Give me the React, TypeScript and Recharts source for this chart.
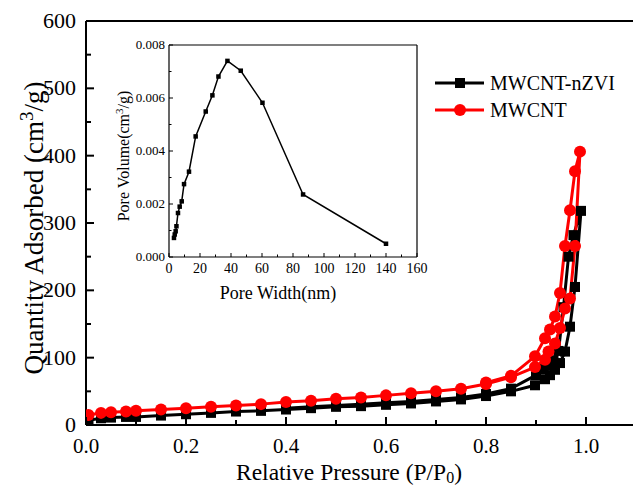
import React from "react";
import {
  LineChart,
  Line,
  XAxis,
  YAxis,
  ReferenceLine,
  Label,
} from "recharts";

// main isotherm: MWCNT-nZVI (black)
const nzviAdsP = [0.005, 0.03, 0.05, 0.08, 0.1, 0.15, 0.2, 0.25, 0.3, 0.35, 0.4, 0.45, 0.5, 0.55, 0.6, 0.65, 0.7, 0.75, 0.8, 0.85, 0.898, 0.918, 0.928, 0.938, 0.948, 0.958, 0.968, 0.978, 0.99];
const nzviAdsQ = [7, 10, 11, 12, 12, 14, 16, 18, 20, 21, 23, 25, 27, 28, 30, 32, 35, 38, 43, 50, 59, 68, 74, 82, 92, 109, 146, 205, 318];
const nzviDesP = [0.975, 0.965, 0.955, 0.945, 0.935, 0.925, 0.915, 0.9, 0.85, 0.8, 0.75, 0.7, 0.65, 0.6, 0.55, 0.5, 0.45, 0.4];
const nzviDesQ = [282, 250, 175, 110, 96, 88, 83, 74, 54, 46, 41, 38, 35, 33, 31, 29, 27, 25];

// MWCNT (red)
const cntAdsP = [0.005, 0.03, 0.05, 0.08, 0.1, 0.15, 0.2, 0.25, 0.3, 0.35, 0.4, 0.45, 0.5, 0.55, 0.6, 0.65, 0.7, 0.75, 0.8, 0.85, 0.898, 0.918, 0.925, 0.938, 0.948, 0.958, 0.968, 0.978, 0.988];
const cntAdsQ = [15, 18, 19, 20, 21, 23, 25, 27, 29, 31, 34, 36, 39, 41, 44, 47, 50, 54, 61, 71, 86, 97, 109, 121, 144, 173, 188, 266, 406];
const cntDesP = [0.978, 0.968, 0.958, 0.948, 0.938, 0.928, 0.918, 0.898, 0.85, 0.8];
const cntDesQ = [377, 319, 266, 196, 161, 142, 129, 102, 73, 63];

const xTicks = [0, 0.1, 0.2, 0.3, 0.4, 0.5, 0.6, 0.7, 0.8, 0.9, 1.0, 1.1];
const yTicks = [0, 50, 100, 150, 200, 250, 300, 350, 400, 450, 500, 550, 600];

// inset: pore size distribution
const poreWidth = [3.2, 3.7, 4.3, 4.8, 5.8, 6.9, 8.2, 9.7, 12.9, 17.2, 23.7, 28, 31.9, 37.7, 46.3, 60.3, 86.5, 140];
const poreVolume = [0.00072, 0.00085, 0.00097, 0.00116, 0.00166, 0.0019, 0.0021, 0.00275, 0.00322, 0.00455, 0.00549, 0.0061, 0.00681, 0.0074, 0.00703, 0.00582, 0.00236, 0.0005];
const insetXTicks = [0, 10, 20, 30, 40, 50, 60, 70, 80, 90, 100, 110, 120, 130, 140, 150, 160];
const insetYTicks = [0, 0.001, 0.002, 0.003, 0.004, 0.005, 0.006, 0.007, 0.008];

const toPoints = (p: number[], q: number[]) => p.map((x, i) => ({ p: x, q: q[i] }));
const nzviData = [...toPoints(nzviAdsP, nzviAdsQ), ...toPoints(nzviDesP, nzviDesQ)];
const cntData = [...toPoints(cntAdsP, cntAdsQ), ...toPoints(cntDesP, cntDesQ)];
const insetData = poreWidth.map((w, i) => ({ w, v: poreVolume[i] }));

const serif = { fontFamily: '"Liberation Serif", "Times New Roman", serif' };

const MainYTick = (props: any) => {
  const { x, y, payload } = props;
  const v = payload.value;
  const major = v % 100 === 0;
  return (
    <g>
      <line x1={x} x2={x + (major ? 8 : 5)} y1={y} y2={y} stroke="#000" strokeWidth={2} />
      {major && (
        <text x={x - 10} y={y} dy={7} textAnchor="end" fontSize={22} style={serif} fill="#000">
          {v}
        </text>
      )}
    </g>
  );
};

const MainXTick = (props: any) => {
  const { x, y, payload } = props;
  const v = payload.value;
  const major = Math.round(v * 10) % 2 === 0;
  return (
    <g>
      <line x1={x} x2={x} y1={y} y2={y - (major ? 8 : 5)} stroke="#000" strokeWidth={2} />
      {major && (
        <text x={x} y={y + 28} textAnchor="middle" fontSize={21} style={serif} fill="#000">
          {v.toFixed(1)}
        </text>
      )}
    </g>
  );
};

const InsetYTick = (props: any) => {
  const { x, y, payload } = props;
  const v = payload.value;
  const major = Math.round(v * 1000) % 2 === 0;
  return (
    <g>
      <line x1={x} x2={x + (major ? 4 : 2.5)} y1={y} y2={y} stroke="#000" strokeWidth={1} />
      {major && (
        <text x={x - 4} y={y} dy={4} textAnchor="end" fontSize={13} style={serif} fill="#000">
          {v.toFixed(3)}
        </text>
      )}
    </g>
  );
};

const InsetXTick = (props: any) => {
  const { x, y, payload } = props;
  const v = payload.value;
  const major = v % 20 === 0;
  return (
    <g>
      <line x1={x} x2={x} y1={y} y2={y - (major ? 4 : 2.5)} stroke="#000" strokeWidth={1} />
      {major && (
        <text x={x} y={y + 16} textAnchor="middle" fontSize={14} style={serif} fill="#000">
          {v}
        </text>
      )}
    </g>
  );
};

const Square = (size: number, color: string) => (props: any) => {
  const { cx, cy, index } = props;
  if (cx == null || cy == null) return <g key={index} />;
  return <rect key={index} x={cx - size / 2} y={cy - size / 2} width={size} height={size} fill={color} />;
};

const Circle = (r: number, color: string) => (props: any) => {
  const { cx, cy, index } = props;
  if (cx == null || cy == null) return <g key={index} />;
  return <circle key={index} cx={cx} cy={cy} r={r} fill={color} />;
};

const LegendBox = () => (
  <svg width={200} height={60} style={{ position: "absolute", left: 430, top: 68 }}>
    <line x1={5} x2={54} y1={15} y2={15} stroke="#000" strokeWidth={3} />
    <rect x={25} y={10} width={10} height={10} fill="#000" />
    <text x={60} y={22} fontSize={20} style={serif} fill="#000">MWCNT-nZVI</text>
    <line x1={5} x2={54} y1={42} y2={42} stroke="#ff0000" strokeWidth={3} />
    <circle cx={30} cy={42} r={6} fill="#ff0000" />
    <text x={60} y={49} fontSize={20} style={serif} fill="#000">MWCNT</text>
  </svg>
);

export default function App() {
  return (
    <div
      style={{
        position: "fixed",
        left: 0,
        top: 0,
        width: 633,
        height: 487,
        overflow: "hidden",
        background: "#fff",
      }}
    >
      <LineChart width={640} height={487} margin={{ top: 21, right: 4, bottom: 0, left: 26 }}>
        <XAxis
          type="number"
          dataKey="p"
          domain={[0, 1.1]}
          ticks={xTicks}
          interval={0}
          tickSize={0}
          tickMargin={0}
          tick={<MainXTick />}
          tickLine={false}
          axisLine={{ stroke: "#000", strokeWidth: 2 }}
          height={62}
          allowDataOverflow
        >
          <Label
            content={(p: any) => (
              <text x={p.viewBox.x + 263} y={p.viewBox.y + 55} textAnchor="middle" fontSize={23.5} style={serif} fill="#000">
                Relative Pressure (P/P
                <tspan fontSize={16} dy={3}>0</tspan>
                <tspan dy={-3}>)</tspan>
              </text>
            )}
          />
        </XAxis>
        <YAxis
          type="number"
          dataKey="q"
          domain={[0, 600]}
          ticks={yTicks}
          interval={0}
          tickSize={0}
          tickMargin={0}
          tick={<MainYTick />}
          tickLine={false}
          axisLine={{ stroke: "#000", strokeWidth: 2 }}
          width={60}
          allowDataOverflow
        >
          <Label
            content={() => (
              <text
                x={0}
                y={0}
                transform="translate(43, 228) rotate(-90)"
                textAnchor="middle"
                fontSize={27}
                style={serif}
                fill="#000"
              >
                Quantity Adsorbed (cm
                <tspan fontSize={19} dy={-10}>3</tspan>
                <tspan dy={10}>/g)</tspan>
              </text>
            )}
          />
        </YAxis>
        <ReferenceLine y={600} stroke="#000" strokeWidth={2} />
        <Line
          data={nzviData}
          dataKey="q"
          name="MWCNT-nZVI"
          stroke="#000"
          strokeWidth={3}
          dot={Square(10, "#000")}
          isAnimationActive={false}
        />
        <Line
          data={cntData}
          dataKey="q"
          name="MWCNT"
          stroke="#ff0000"
          strokeWidth={3}
          dot={Circle(6, "#ff0000")}
          isAnimationActive={false}
        />
      </LineChart>

      <LegendBox />

      <div style={{ position: "absolute", left: 100, top: 20 }}>
        <LineChart width={330} height={290} data={insetData} margin={{ top: 25, right: 13, bottom: 0, left: 19 }}>
          <XAxis
            type="number"
            dataKey="w"
            domain={[0, 160]}
            ticks={insetXTicks}
            interval={0}
            tickSize={0}
            tickMargin={0}
            tick={<InsetXTick />}
            tickLine={false}
            axisLine={{ stroke: "#000", strokeWidth: 1.2 }}
            height={53}
          >
            <Label
              content={(p: any) => (
                <text x={278 - 100} y={p.viewBox.y + 42} textAnchor="middle" fontSize={18} style={serif} fill="#000">
                  Pore Width(nm)
                </text>
              )}
            />
          </XAxis>
          <YAxis
            type="number"
            domain={[0, 0.008]}
            ticks={insetYTicks}
            interval={0}
            tickSize={0}
            tickMargin={0}
            tick={<InsetYTick />}
            tickLine={false}
            axisLine={{ stroke: "#000", strokeWidth: 1.2 }}
            width={50}
          >
            <Label
              content={() => (
                <text x={0} y={0} transform="translate(29, 136) rotate(-90)" textAnchor="middle" fontSize={16} style={serif} fill="#000">
                  Pore Volume(cm
                  <tspan fontSize={11} dy={-6}>3</tspan>
                  <tspan dy={6}>/g)</tspan>
                </text>
              )}
            />
          </YAxis>
          <ReferenceLine y={0.008} stroke="#000" strokeWidth={1.2} />
          <ReferenceLine x={160} stroke="#000" strokeWidth={1.2} />
          <Line
            dataKey="v"
            stroke="#000"
            strokeWidth={1.5}
            dot={Square(4.5, "#000")}
            isAnimationActive={false}
          />
        </LineChart>
      </div>
    </div>
  );
}
